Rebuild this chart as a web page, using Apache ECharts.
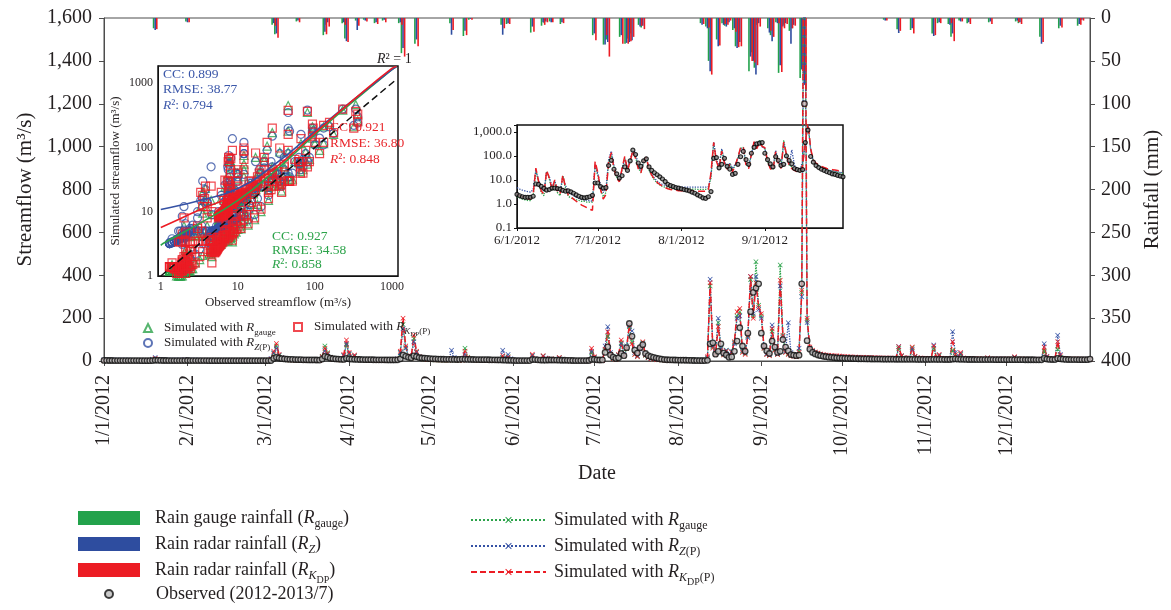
<!DOCTYPE html>
<html>
<head>
<meta charset="utf-8">
<script src="https://cdn.jsdelivr.net/npm/echarts@6/dist/echarts.min.js"></script>
<style>
html,body{margin:0;padding:0;background:#fff;}
#main{width:1171px;height:610px;}
</style>
</head>
<body>
<div id="main"></div>
<script>
// daily streamflow (m3/s), 1/1/2012 .. 1/1/2013, one row per month
var obsFlow = [
 2.6,2.5,2.4,2.3,2.2,2.2,2.1,2.0,2.0,1.9,1.9,1.8,1.8,1.8,1.7,1.7,1.7,1.6,1.9,3.5,3.0,2.6,2.4,2.3,2.2,2.1,2.0,2.0,1.9,1.9,2.1,
 2.4,2.2,2.1,2.0,1.9,1.9,1.8,1.8,1.7,1.7,1.7,1.6,1.6,1.6,1.5,1.5,1.5,1.5,1.4,1.4,1.4,1.4,1.4,1.3,1.3,1.3,1.3,1.3,1.3,
 1.3,1.4,2.0,12,17,14,11,9.5,8.5,7.8,7.2,6.8,6.4,6.0,5.7,5.4,5.2,5.0,4.8,4.6,4.5,9,22,18,13,11,9.6,8.8,8.0,7.5,12,
 10,8.6,7.8,7.4,7.0,6.7,6.4,6.2,6.0,5.8,5.6,5.5,5.4,5.3,5.2,5.1,5.0,5.0,5.6,10,28,22,17,15,24,20,16,14,13,12,
 11,10,9.5,9.0,8.6,8.2,7.9,7.6,7.4,7.2,7.0,7.4,8.5,8.0,7.5,7.2,7.0,6.8,6.6,6.4,6.2,6.0,5.8,5.6,5.4,5.2,5.0,4.5,4.0,3.5,3.0,
 2.5,2.2,2.0,1.9,1.9,1.9,2.1,6.8,6.5,5.4,4.5,3.8,4.0,4.6,4.6,4.4,4.2,3.7,3.4,3.5,3.2,2.8,2.4,2.1,1.9,1.8,1.9,2.0,2.3,7.5,
 7.5,5.3,4.6,4.8,40,66,28,18,12,15,35,25,62,175,115,51,37,62,76,35,25,20,16.5,13.6,11,8.6,6.5,5.8,5.3,4.8,4.6,
 4.3,4.0,3.8,3.5,3.1,2.8,2.4,2.1,1.8,1.7,2.0,3.3,80,85,32,45,80,37,28,17,19,45,93,155,70,45,130,230,320,340,360,
 130,70,47,35,93,65,40,45,100,65,47,30,27,25,27,360,1200,95,55,40,33,28,25,22,20,18,17,15.5,14.5,13.5,
 13,12.5,12,11.6,11.2,10.9,10.6,10.3,10,9.8,9.6,9.4,9.2,9.0,8.9,8.7,8.6,8.5,8.4,8.3,8.2,8.1,8.0,7.9,7.8,7.7,7.7,7.6,7.5,7.4,7.4,
 7.3,7.3,7.5,7.6,7.4,7.3,7.2,7.1,7.0,7.0,8.5,9.5,8.5,8.0,7.6,7.3,7.1,7.0,6.9,6.8,6.7,6.7,6.6,6.6,6.5,6.5,6.4,6.4,6.3,6.3,
 6.3,6.2,6.2,6.1,6.1,6.0,6.0,5.9,5.9,5.8,5.8,5.7,5.7,5.7,12,9,7.5,7,6.8,12,10,8.5,7.5,7.0,6.8,6.6,6.5,6.4,6.3,6.2,6.2,
 9
];
var simGauge = [
 1.3,1.3,1.2,1.2,1.2,1.2,1.1,1.1,1.1,1.1,1.0,1.0,1.0,1.0,1.0,1.0,1.0,1.0,3.5,9.5,4.5,2.6,2.0,1.7,1.5,1.4,1.3,1.3,1.3,1.2,2.5,
 1.6,1.4,1.3,1.3,1.2,1.2,1.2,1.2,1.2,1.2,1.2,1.2,1.2,1.2,1.2,1.2,1.2,1.2,1.2,1.2,1.2,1.2,1.2,1.2,1.2,1.2,1.2,1.2,1.3,
 1.3,1.5,6,35,70,26,12,8,6,5,4.3,3.8,3.4,3.2,3.0,2.8,2.7,2.6,2.5,2.4,2.4,22,70,38,17,10,7.5,6,5.2,24,75,
 32,13,22,9,6.5,5.2,4.5,4.0,3.6,3.3,3.1,3.0,2.9,2.8,2.7,2.6,2.6,2.5,7,40,170,62,22,13,105,42,19,11,8.5,7,
 6,5.3,4.8,4.5,4.2,4.0,3.8,3.6,8,5,3.8,3.5,3.4,60,18,7.5,5,4.2,3.8,3.5,3.3,3.1,3.0,2.9,2.8,2.7,2.6,15,6,20,5.5,
 2.0,1.8,1.6,1.5,1.4,1.4,2.2,24,8,3,2.2,23,11,3.5,9,3,2.2,15,4.5,2.1,1.8,1.6,1.5,1.4,1.3,1.3,1.2,1.2,1.2,38,
 15,4,2,3,50,115,32,13,9,26,85,24,58,160,90,32,21,58,85,26,15,10,7.5,6.2,5.4,5,4.7,4.5,4.4,4.3,4.2,
 4.2,4.2,4.2,4.2,4.2,4.2,4.1,4.1,4.1,4.1,4.4,12,350,65,35,180,55,30,50,25,42,85,210,230,45,35,115,380,210,463,260,
 210,60,32,27,140,55,32,448,115,42,35,28,25,22,45,320,2300,190,60,46,39,34,30,27,25,24,22,21,20,19,
 18,17.5,17,16.5,16,15.6,15.2,14.8,14.4,14,13.7,13.4,13.1,12.8,12.5,12.2,12,11.8,11.6,11.4,11.2,60,22,14,12,11.5,62,20,13,11.5,11,
 10.5,10.2,10,60,13,25,11,9.8,9.5,9.3,50,22,14,30,12,10,9.6,9.4,9.2,9.0,8.9,8.8,8.7,13,8.8,8.6,8.5,8.4,8.3,8.2,
 8.1,8.0,7.9,16,8.5,8,7.9,7.8,7.7,7.6,7.5,7.5,7.4,7.4,45,15,9.5,8.3,8,55,18,10,8.5,8,7.8,7.6,7.5,7.4,7.3,7.2,7.1,
 7.0
];
var simRadarZ = [
 5.5,5.2,5.0,4.8,4.6,4.5,4.4,4.3,4.2,4.1,4.0,4.0,3.9,3.9,3.8,3.8,3.7,3.7,8.5,16,8.0,6.2,5.5,5.0,4.8,4.6,4.5,4.4,4.3,4.2,6.5,
 5.0,4.6,4.4,4.2,4.1,4.0,3.9,3.8,3.8,3.7,3.7,3.6,3.6,3.5,3.5,3.5,3.4,3.4,3.4,3.3,3.3,3.3,3.3,3.2,3.2,3.2,3.2,3.2,3.2,
 3.3,3.8,12,38,60,28,16,11,9,7.8,7.0,6.5,6.1,5.8,5.6,5.4,5.2,5.1,5.0,4.9,4.8,18,48,30,18,12,9.8,8.5,7.8,26,80,
 35,16,24,12,9,7.5,6.8,6.3,6.0,5.8,5.6,5.5,5.4,5.3,5.2,5.1,5.0,5.0,10,38,150,60,25,15,90,40,20,13,10,9,
 8.5,8,7.6,7.3,7.0,6.8,6.6,6.4,50,16,9,7.5,7,30,12,8,7,6.5,6.2,6,5.8,5.6,5.5,5.4,5.3,5.2,5.1,50,14,30,10,
 4.8,4.2,3.8,3.5,3.3,3.1,4,26,10,4.5,3.5,22,14,5,9,4.2,3.3,14,6,3.2,2.6,2.2,1.9,1.7,1.6,1.5,1.4,1.4,1.3,45,
 18,6,3,4,70,160,40,16,11,28,80,30,70,165,140,40,25,55,80,30,18,12,9,7.5,6.5,6,5.6,5.4,5.2,5.1,5.0,
 5.0,5.0,5.0,5.0,5.0,5.0,5.0,5.0,5.0,5.0,5.2,15,381,70,40,199,60,35,50,30,45,80,200,210,50,40,110,394,220,394,240,
 200,65,35,30,168,60,35,350,110,45,179,40,30,25,60,300,2100,180,60,45,38,33,30,27,25,24,23,22,21,20,
 19,18.5,18,17.5,17,16.6,16.2,15.8,15.4,15,14.7,14.4,14.1,13.8,13.5,13.2,13,12.8,12.6,12.4,12.2,68,24,15,13,12.5,55,20,14,12.5,12,
 11.5,11,10.8,75,14,28,12,10.5,10.2,10,137,40,18,35,13,10.8,10.4,10.1,9.9,9.7,9.5,9.4,9.3,14,9.5,9.2,9.1,9.0,8.9,8.8,
 8.7,8.6,8.5,18,9,8.5,8.4,8.3,8.2,8.1,8.0,8.0,7.9,7.9,80,22,11,9,8.6,120,30,13,10,9,8.7,8.5,8.4,8.3,8.2,8.1,8.0,
 7.9
];
var simRadarKdp = [
 1.5,1.5,1.4,1.4,1.4,1.3,1.3,1.3,1.3,1.2,1.2,1.2,1.2,1.2,1.2,1.1,1.1,1.1,4.5,12,5.5,3.2,2.4,2.0,1.8,1.7,1.6,1.5,1.5,1.5,4.8,
 2.6,1.9,1.7,1.6,1.5,1.5,1.4,1.4,1.4,1.3,1.3,1.3,1.3,1.3,1.3,1.3,1.4,1.4,1.4,1.4,1.4,1.4,1.4,1.4,1.4,1.4,1.4,1.4,1.4,
 1.4,1.6,8,45,82,30,14,9,6.5,5.2,4.4,3.8,3.4,3.1,2.9,2.7,2.6,2.5,2.4,2.3,2.3,20,59,35,16,9.5,7,5.5,4.8,30,98,
 40,15,28,10,6.5,5,4.2,3.7,3.3,3.0,2.8,2.7,2.6,2.5,2.4,2.4,2.3,2.3,8,45,200,70,25,14,120,45,20,12,9,7.5,
 6.5,5.8,5.3,4.9,4.6,4.4,4.2,4.0,12,6,4.2,3.8,3.6,45,15,7,5,4.2,3.8,3.5,3.3,3.1,3.0,2.9,2.8,2.7,2.7,25,8,18,6,
 2.6,2.2,2.0,1.8,1.7,1.6,2.5,31,9,3.5,2.6,25,12,4,10,3.5,2.6,16,5,2.4,2.0,1.6,1.3,1.1,0.9,0.8,0.7,0.6,0.55,60,
 20,4,1.6,2.5,55,137,30,12,8.5,30,98,25,60,170,80,30,20,60,90,28,16,11,8,6.5,5.5,4.8,4.3,4.0,3.8,3.7,3.6,
 3.6,3.6,3.5,3.5,3.5,3.5,3.4,3.4,3.4,3.4,3.6,20,365,60,30,160,50,28,45,22,40,90,230,245,40,30,120,394,200,365,250,
 220,60,30,25,150,50,30,377,120,40,30,25,22,20,40,330,2500,200,65,50,42,37,33,30,28,27,26,25,24,23,
 22,21,20,19.5,19,18.5,18,17.5,17,16.6,16.2,15.8,15.4,15,14.7,14.4,14.1,13.8,13.5,13.2,13,67,25,16,14,13.5,65,22,15,13.5,13,
 12.5,12,11.8,70,15,30,13,11.5,11,10.8,90,30,16,40,14,11.5,11,10.7,10.5,10.3,10.1,10,9.9,15,10,9.7,9.6,9.5,9.4,9.3,
 9.2,9.1,9,20,9.5,9,8.9,8.8,8.7,8.6,8.5,8.5,8.4,8.4,65,20,11,9.5,9,90,25,12,10,9.5,9.2,9,8.9,8.8,8.7,8.6,8.5,
 8.4
];

// daily rainfall (mm) on rain days of 2012
var rainDates = ['1/20','2/1','3/4','3/5','3/13','3/23','3/24','3/30','3/31','4/4','4/7','4/11','4/14','4/20','4/21','4/26',
 '5/9','5/14','5/16','5/28','5/30','6/8','6/12','6/13','6/15','6/19','7/1','7/5','7/6','7/11','7/13','7/14','7/15','7/18','7/19',
 '8/10','8/12','8/13','8/16','8/18','8/19','8/20','8/22','8/23','8/24','8/28','8/29','8/30','8/31','9/4','9/5','9/7','9/8','9/9',
 '9/10','9/12','9/13','9/16','9/17','10/17','10/22','10/27','11/4','11/6','11/10','11/11','11/14','11/17','11/25','12/5','12/6',
 '12/14','12/21','12/28','12/29'];
var rainGauge = [12,4,8,19,4,20,8,6,24,3,2,6,3,6,41,30, 6,21,2,8,7,17,9,6,4,7,20,31,25,22,30,24,18,8,11,
 6,10,50,25,6,9,4,14,33,30,62,40,58,8,12,20,5,64,14, 8,15,12,70,60,2,13,14,18,6,7,22,3,6,5,4,6, 22,12,9,3];
var rainRadarZ = [14,5,6,18,3,16,5,5,27,14,3,5,2,5,35,25, 19.5,15,1,19.5,6,10,5,4,5,5,18,31,28,20,29,28,26,10,9,
 8,12,62,33,8,10,5,12,35,28,45,50,66,6,17,27,6,55,10, 6,30,8,60,78,3,17.5,12,21,5,8,18,4,5,4,3,5, 30,9,7,2];
var rainRadarKdp = [13,5,9,23,5,19,10,8,28,9,4,7,5,8,45,33, 14,20,2,12,7,16,8,5,5,6,26,20,45,30,30,27,22,9,13,
 7,11,66,32,7,8,3,16,34,33,50,52,55,10,15,22,6,63,12, 7,12,9,65,85,3,15,18,20,6,6,27,4,7,7,5,7, 28,11,8,3];

// fitted curves in the scatter inset
var fitObs = [1, 1.07, 3.2, 10, 31.6, 100, 316, 1000, 1150];
var fitGauge = [3.0, 3.2, 6.6, 15, 45, 158, 520, 1620, 1820];
var fitRadarZ = [10.8, 11, 15, 23, 57, 177, 550, 1620, 1820];
var fitRadarKdp = [5.7, 5.9, 10.7, 19.4, 50, 167, 550, 1700, 1820];

var ff = '"Liberation Serif","Times New Roman",serif';
var txt = '#231f20';
var cG = '#22a24b', cZ = '#2e4d9f', cK = '#ec1c24';
var xMark = 'path://M1,0L5,4L9,0L10,1L6,5L10,9L9,10L5,6L1,10L0,9L4,5L0,1Z';

var days = [];
for (var i = 0; i < obsFlow.length; i++) {
    var d = new Date(2012, 0, 1 + i);
    days.push((d.getMonth() + 1) + '/' + d.getDate() + '/' + d.getFullYear());
}
var insetStart = days.indexOf('6/1/2012'), insetEnd = days.indexOf('9/30/2012') + 1;

function isMonthStart(idx, value) { return /^\d+\/1\/2012$/.test(value); }
function isDecade(v) { var l = Math.log(v) / Math.LN10; return Math.abs(l - Math.round(l)) < 1e-6; }

function richSet(fs, color, lh) {
    lh = lh || Math.round(fs * 1.35);
    var sf = Math.round(fs * 0.68), ssf = Math.round(fs * 0.55);
    function st(o) { o.fontFamily = ff; o.color = color; o.fill = color; return o; }
    return {
        t: st({fontSize: fs, lineHeight: lh}),
        i: st({fontSize: fs, lineHeight: lh, fontStyle: 'italic'}),
        s: st({fontSize: sf, lineHeight: sf, verticalAlign: 'top', padding: [lh - sf, 0, 0, 0]}),
        si: st({fontSize: sf, lineHeight: sf, fontStyle: 'italic', verticalAlign: 'top', padding: [lh - sf, 0, 0, 0]}),
        ss: st({fontSize: ssf, lineHeight: ssf, verticalAlign: 'top', padding: [lh - ssf + Math.round(fs * 0.15), 0, 0, 0]})
    };
}

function rainSeries(name, vals, color) {
    var data = [];
    for (var i = 0; i < rainDates.length; i++) data.push([rainDates[i] + '/2012', vals[i]]);
    return {name: name, type: 'bar', xAxisIndex: 0, yAxisIndex: 1, data: data, barWidth: 1.6, barGap: '0%',
        itemStyle: {color: color}, z: 2};
}
function simSeries(name, vals, color, dash, w) {
    return {name: name, type: 'line', xAxisIndex: 0, yAxisIndex: 0, data: vals, symbol: xMark, symbolSize: 5,
        showAllSymbol: true, itemStyle: {color: color}, lineStyle: {color: color, type: dash, width: w}, z: 3};
}
function insetLine(name, vals, color, dash, w) {
    return {name: name, type: 'line', xAxisIndex: 2, yAxisIndex: 3, data: vals.slice(insetStart, insetEnd),
        symbol: 'none', lineStyle: {color: color, type: dash, width: w}, z: 5};
}
function pairs(sim) {
    var out = [];
    for (var i = 0; i < obsFlow.length; i++) if (obsFlow[i] > 0 && sim[i] > 0) out.push([obsFlow[i], sim[i]]);
    return out;
}
function scatterSeries(name, sim, symbol, color) {
    return {name: name, type: 'scatter', xAxisIndex: 1, yAxisIndex: 2, data: pairs(sim), symbol: symbol, symbolSize: 8,
        itemStyle: {color: 'rgba(255,255,255,0)', borderColor: color, borderWidth: 1.2}, z: 2};
}
function fitSeries(name, vals, color, dash) {
    var data = [];
    for (var i = 0; i < fitObs.length; i++) data.push([fitObs[i], vals[i]]);
    return {name: name, type: 'line', xAxisIndex: 1, yAxisIndex: 2, data: data, smooth: true, symbol: 'none',
        lineStyle: {color: color, width: 1.6, type: dash || 'solid'}, z: 3};
}

var legendText = {
    rainG: '{t|Rain gauge rainfall (}{i|R}{s|gauge}{t|)}',
    rainZ: '{t|Rain radar rainfall (}{i|R}{si|Z}{t|)}',
    rainK: '{t|Rain radar rainfall (}{i|R}{si|K}{ss|DP}{t|)}',
    obs: '{t|Observed (2012-2013/7)}',
    simG: '{t|Simulated with }{i|R}{s|gauge}',
    simZ: '{t|Simulated with }{i|R}{si|Z}{s|(P)}',
    simK: '{t|Simulated with }{i|R}{si|K}{ss|DP}{s|(P)}',
    scG: '{t|Simulated with }{i|R}{s|gauge}',
    scZ: '{t|Simulated with }{i|R}{si|Z}{s|(P)}',
    scK: '{t|Simulated with }{i|R}{si|K}{ss|DP}{s|(P)}'
};
function mkLegend(name, left, top, w, h, pad, fs, icon) {
    return {data: [icon ? {name: name, icon: icon} : name], left: left, top: top, itemWidth: w, itemHeight: h,
        padding: 0, selectedMode: false,
        formatter: function (n) { return legendText[n]; },
        textStyle: {fontFamily: ff, fontSize: fs, color: txt, padding: [0, 0, 0, pad], rich: richSet(fs, txt)}};
}

var chart = echarts.init(document.getElementById('main'));
var option = {
    animation: false,
    backgroundColor: '#fff',
    textStyle: {fontFamily: ff, color: txt},
    grid: [
        {left: 104, right: 79, top: 18, bottom: 249, show: true, borderColor: '#4d4d4d', borderWidth: 1},
        {left: 158, right: 773, top: 66, bottom: 334, show: true, borderColor: '#111', borderWidth: 1.5, backgroundColor: '#fff'},
        {left: 517, right: 328, top: 125, bottom: 382, show: true, borderColor: '#111', borderWidth: 1.5}
    ],
    xAxis: [
        {type: 'category', gridIndex: 0, data: days, boundaryGap: false,
            name: 'Date', nameLocation: 'middle', nameGap: 100, nameTextStyle: {fontSize: 20, fontFamily: ff, color: txt},
            axisLine: {lineStyle: {color: '#4d4d4d'}},
            axisTick: {interval: isMonthStart, length: 5, lineStyle: {color: '#4d4d4d'}},
            axisLabel: {interval: isMonthStart, rotate: 90, fontSize: 20, fontFamily: ff, color: txt, margin: 14},
            splitLine: {show: false}},
        {type: 'log', gridIndex: 1, min: 0.92, max: 1200,
            name: 'Observed streamflow (m³/s)', nameLocation: 'middle', nameGap: 20,
            nameTextStyle: {fontSize: 13, fontFamily: ff, color: txt},
            axisLine: {lineStyle: {color: '#111'}}, axisTick: {show: false},
            axisLabel: {fontSize: 12, fontFamily: ff, color: txt, margin: 5,
                formatter: function (v) { return isDecade(v) ? String(Math.round(v)) : ''; }},
            splitLine: {show: false}},
        {type: 'category', gridIndex: 2, data: days.slice(insetStart, insetEnd), boundaryGap: false,
            axisLine: {lineStyle: {color: '#111'}},
            axisTick: {interval: isMonthStart, length: 3, lineStyle: {color: '#111'}},
            axisLabel: {interval: isMonthStart, fontSize: 13, fontFamily: ff, color: txt, margin: 6},
            splitLine: {show: false}}
    ],
    yAxis: [
        {type: 'value', gridIndex: 0, min: 0, max: 1600, interval: 200,
            name: 'Streamflow (m³/s)', nameLocation: 'middle', nameGap: 68, nameRotate: 90,
            nameTextStyle: {fontSize: 21, fontFamily: ff, color: txt},
            axisLine: {show: true, lineStyle: {color: '#4d4d4d'}},
            axisTick: {show: true, length: 5, lineStyle: {color: '#4d4d4d'}},
            axisLabel: {fontSize: 20, fontFamily: ff, color: txt, margin: 12,
                formatter: function (v) { return v.toLocaleString('en-US'); }},
            splitLine: {show: false}},
        {type: 'value', gridIndex: 0, min: 0, max: 400, interval: 50, inverse: true, position: 'right',
            name: 'Rainfall (mm)', nameLocation: 'middle', nameGap: 52, nameRotate: 90,
            nameTextStyle: {fontSize: 21, fontFamily: ff, color: txt},
            axisLine: {show: true, lineStyle: {color: '#4d4d4d'}},
            axisTick: {show: true, length: 5, lineStyle: {color: '#4d4d4d'}},
            axisLabel: {fontSize: 20, fontFamily: ff, color: txt, margin: 11},
            splitLine: {show: false}},
        {type: 'log', gridIndex: 1, min: 1, max: 1850,
            name: 'Simulated streamflow (m³/s)', nameLocation: 'middle', nameGap: 36, nameRotate: 90,
            nameTextStyle: {fontSize: 13, fontFamily: ff, color: txt},
            axisLine: {lineStyle: {color: '#111'}}, axisTick: {show: false},
            axisLabel: {fontSize: 12, fontFamily: ff, color: txt, margin: 5,
                formatter: function (v) { return isDecade(v) ? String(Math.round(v)) : ''; }},
            splitLine: {show: false}},
        {type: 'log', gridIndex: 2, min: 0.1, max: 1950,
            axisLine: {show: true, lineStyle: {color: '#111'}},
            axisTick: {show: true, length: 3, lineStyle: {color: '#111'}},
            axisLabel: {fontSize: 13, fontFamily: ff, color: txt, margin: 5,
                formatter: function (v) {
                    return isDecade(v) ? v.toLocaleString('en-US', {minimumFractionDigits: 1, maximumFractionDigits: 1}) : '';
                }},
            splitLine: {show: false}}
    ],
    legend: [
        mkLegend('rainG', 78, 506, 62, 14, 10, 18, 'rect'),
        mkLegend('rainZ', 78, 532, 62, 14, 10, 18, 'rect'),
        mkLegend('rainK', 78, 558, 62, 14, 10, 18, 'rect'),
        mkLegend('obs', 104, 585, 8, 8, 38, 18),
        mkLegend('simG', 470, 508, 75, 8, 3, 18),
        mkLegend('simZ', 470, 534, 75, 8, 3, 18),
        mkLegend('simK', 470, 560, 75, 8, 3, 18),
        mkLegend('scG', 143, 319, 8, 8, 7, 13),
        mkLegend('scZ', 143, 334, 8, 8, 7, 13),
        mkLegend('scK', 293, 318, 8, 8, 7, 13)
    ],
    graphic: [
        {type: 'text', left: 377, top: 52, z: 10,
            style: {text: '{i|R}{t|² = 1}', rich: richSet(14, txt)}},
        {type: 'text', left: 163, top: 67, z: 10,
            style: {text: '{t|CC: 0.899}\n{t|RMSE: 38.77}\n{i|R}{t|²: 0.794}', fill: '#3b57a9', rich: richSet(13.5, '#3b57a9', 15.5)}},
        {type: 'text', left: 330, top: 120, z: 10,
            style: {text: '{t|CC: 0.921}\n{t|RMSE: 36.80}\n{i|R}{t|²: 0.848}', fill: '#e8262b', rich: richSet(13.5, '#e8262b', 16)}},
        {type: 'text', left: 272, top: 229, z: 10,
            style: {text: '{t|CC: 0.927}\n{t|RMSE: 34.58}\n{i|R}{t|²: 0.858}', fill: '#2ca34a', rich: richSet(13.5, '#2ca34a', 14)}}
    ],
    series: [
        rainSeries('rainG', rainGauge, cG),
        rainSeries('rainZ', rainRadarZ, cZ),
        rainSeries('rainK', rainRadarKdp, cK),
        simSeries('simG', simGauge, '#2ca34a', 'dotted', 1.3),
        simSeries('simZ', simRadarZ, '#3551a4', 'dotted', 1.3),
        simSeries('simK', simRadarKdp, cK, [6, 3], 1.5),
        {name: 'obs', type: 'scatter', xAxisIndex: 0, yAxisIndex: 0, data: obsFlow, symbol: 'circle', symbolSize: 5.5,
            itemStyle: {color: '#bdbdbd', borderColor: '#111', borderWidth: 1.3}, z: 4},
        scatterSeries('scG', simGauge, 'triangle', '#2ca34a'),
        scatterSeries('scZ', simRadarZ, 'circle', '#3551a4'),
        scatterSeries('scK', simRadarKdp, 'rect', cK),
        fitSeries('fitG', fitGauge, '#2ca34a'),
        fitSeries('fitZ', fitRadarZ, '#3551a4'),
        fitSeries('fitK', fitRadarKdp, cK),
        {name: 'oneToOne', type: 'line', xAxisIndex: 1, yAxisIndex: 2, data: [[1, 1], [1150, 1150]], symbol: 'none',
            lineStyle: {color: '#111', type: [7, 4], width: 1.5}, z: 3},
        insetLine('inG', simGauge, '#2ca34a', 'dotted', 1.3),
        insetLine('inZ', simRadarZ, '#3551a4', 'dotted', 1.3),
        insetLine('inK', simRadarKdp, cK, [7, 4], 1.5),
        {name: 'inObs', type: 'scatter', xAxisIndex: 2, yAxisIndex: 3, data: obsFlow.slice(insetStart, insetEnd),
            symbol: 'circle', symbolSize: 4, itemStyle: {color: '#888', borderColor: '#000', borderWidth: 1.2}, z: 6}
    ]
};
chart.setOption(option);
</script>
</body>
</html>
